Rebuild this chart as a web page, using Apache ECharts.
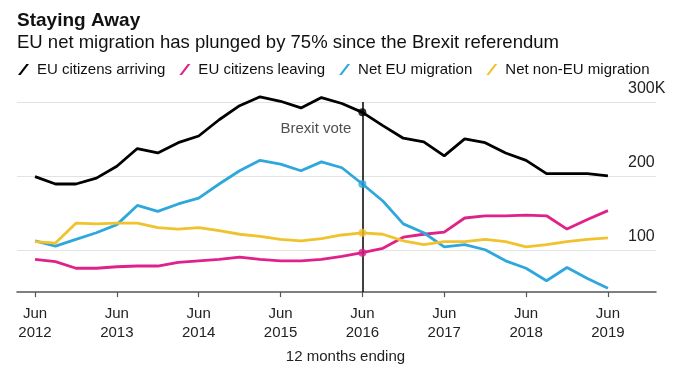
<!DOCTYPE html>
<html><head><meta charset="utf-8">
<script src="https://cdn.jsdelivr.net/npm/echarts@6/dist/echarts.min.js"></script>
<style>html,body{margin:0;padding:0;background:#fff}#c{width:680px;height:371px}</style>
</head><body><div id="c"></div>
<script>
// Quarterly periods (12 months ending)
const periods = ['Jun 2012','Sep 2012','Dec 2012','Mar 2013','Jun 2013','Sep 2013','Dec 2013','Mar 2014',
  'Jun 2014','Sep 2014','Dec 2014','Mar 2015','Jun 2015','Sep 2015','Dec 2015','Mar 2016',
  'Jun 2016','Sep 2016','Dec 2016','Mar 2017','Jun 2017','Sep 2017','Dec 2017','Mar 2018',
  'Jun 2018','Sep 2018','Dec 2018','Mar 2019','Jun 2019'];
// Values in thousands
const arriving = [199,189,189,197,213,237,231,245,254,276,295,307,301,292,306,298,286,268,251,246,227,250,245,231,221,203,203,203,200];
const leaving  = [87,84,75,75,77,78,78,83,85,87,90,87,85,85,87,91,96,102,117,121,124,143,146,146,147,146,128,141,153];
const netEU    = [112,105,114,123,134,160,152,162,170,189,207,221,216,207,219,211,189,166,135,123,104,107,100,85,75,58,76,61,48];
const netNonEU = [111,109,136,135,136,136,130,128,130,126,121,118,114,112,115,120,123,121,112,107,111,111,114,111,104,107,111,114,116];

const seriesNames = ['EU citizens arriving','EU citizens leaving','Net EU migration','Net non-EU migration'];
const xTickPeriods = ['Jun 2012','Jun 2013','Jun 2014','Jun 2015','Jun 2016','Jun 2017','Jun 2018','Jun 2019'];
const yTicks = [100, 200, 300];
const yTickLabels = ['100', '200', '300K'];
const brexitPeriod = 'Jun 2016';
const brexitLabel = 'Brexit vote';
const brexitLabelValue = 264;

const colors = ['#000000', '#e0218a', '#2ea8dc', '#f0c32e'];
const FONT = '"Liberation Sans", Arial, Helvetica, sans-serif';

const xTickIdx = xTickPeriods.map(p => periods.indexOf(p));
const brexitIdx = periods.indexOf(brexitPeriod);
const allSeries = [arriving, leaving, netEU, netNonEU];

const pair = arr => arr.map((v, i) => [i, v]);
const slashIcon = 'path://M0,11L2.6,11L11,0L8.4,0Z';

const chart = echarts.init(document.getElementById('c'), null, {renderer: 'canvas'});
const lineSeries = allSeries.map((arr, k) => ({
  name: seriesNames[k],
  type: 'line',
  data: pair(arr),
  showSymbol: false,
  clip: false,
  lineStyle: {color: colors[k], width: 2.8},
  itemStyle: {color: colors[k]},
  emphasis: {disabled: true},
  z: 3 + (k === 0 ? 1 : 0)
}));

chart.setOption({
  animation: false,
  textStyle: {fontFamily: FONT},
  title: [
    {text: 'Staying Away', left: 17, top: 11, padding: 0,
     textStyle: {fontFamily: FONT, fontSize: 19, fontWeight: 'bold', color: '#111', lineHeight: 19}},
    {text: 'EU net migration has plunged by 75% since the Brexit referendum', left: 17, top: 34, padding: 0,
     textStyle: {fontFamily: FONT, fontSize: 18.5, fontWeight: 'normal', color: '#111', lineHeight: 18}}
  ],
  legend: {
    left: 18, top: 62, padding: 0,
    itemWidth: 11, itemHeight: 11, itemGap: 14,
    icon: slashIcon,
    data: seriesNames,
    textStyle: {fontFamily: FONT, fontSize: 15, color: '#111', padding: [0, 0, 0, 3]}
  },
  grid: {left: 17, right: 24, top: 102, bottom: 76},
  xAxis: {
    type: 'value', min: -0.88, max: 30.35,
    axisLine: {show: true, lineStyle: {color: '#555', width: 1.5}},
    axisTick: {show: true, customValues: xTickIdx, length: 5, lineStyle: {color: '#555', width: 1.2}},
    axisLabel: {customValues: xTickIdx, formatter: v => periods[Math.round(v)].replace(' ', '\n'),
      fontFamily: FONT, fontSize: 15, lineHeight: 19, color: '#222', margin: 12},
    splitLine: {show: false},
    name: '12 months ending', nameLocation: 'middle', nameGap: 47,
    nameTextStyle: {fontFamily: FONT, fontSize: 15, color: '#222', lineHeight: 19, padding: [0, 0, 0, 18]}
  },
  yAxis: {
    type: 'value', position: 'right', min: 42.7, max: 300,
    axisLine: {show: false},
    axisTick: {show: false, customValues: yTicks},
    axisLabel: {customValues: yTicks, inside: true, align: 'left', verticalAlign: 'bottom', margin: 28,
      formatter: v => yTickLabels[yTicks.indexOf(v)],
      fontFamily: FONT, fontSize: 16, lineHeight: 16, color: '#222', padding: [0, 0, 5, 0]},
    splitLine: {show: true, lineStyle: {color: '#e3e3e3', width: 1.2}}
  },
  series: [
    ...lineSeries,
    {
      type: 'scatter', name: 'brexit', silent: true, z: 6,
      data: allSeries.map((arr, k) => ({value: [brexitIdx, arr[brexitIdx]], itemStyle: {color: colors[k]}})),
      symbol: 'circle', symbolSize: 8,
      markLine: {silent: true, symbol: 'none', animation: false,
        lineStyle: {color: '#000', width: 1.5, type: 'solid'}, label: {show: false},
        data: [{xAxis: brexitIdx}]}
    },
    {
      type: 'scatter', name: 'brexitLabel', silent: true, symbolSize: 0,
      data: [[brexitIdx, brexitLabelValue]],
      label: {show: true, position: 'left', distance: 11, formatter: brexitLabel,
        fontFamily: FONT, fontSize: 15, color: '#222'}
    }
  ]
});
</script>
</body></html>
